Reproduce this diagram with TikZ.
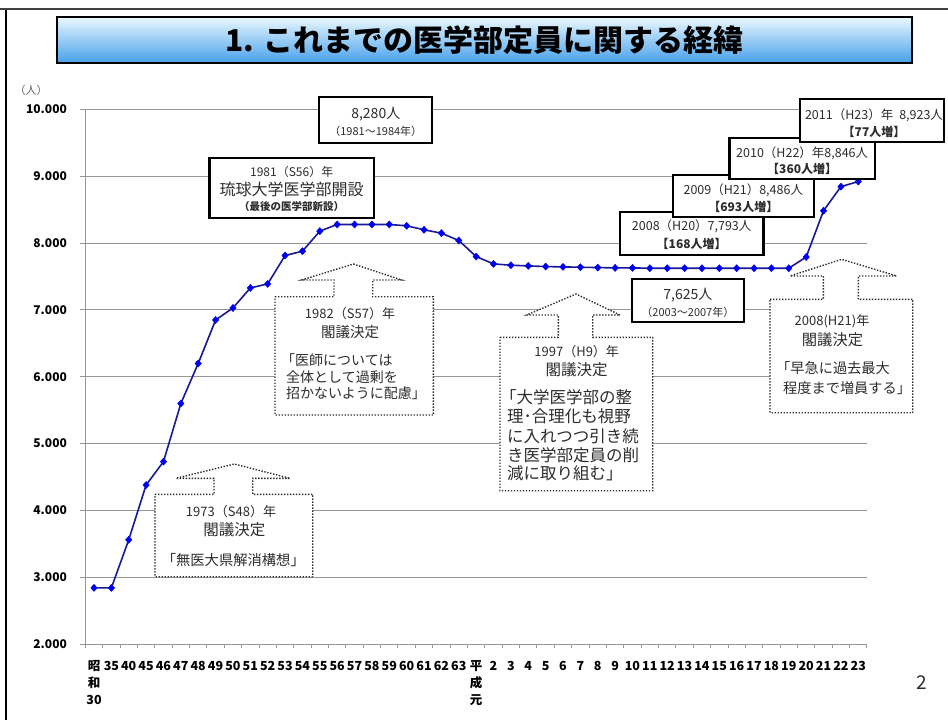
\documentclass[tikz,border=0pt]{standalone}
\usepackage{fontspec}
\setmainfont{Noto Sans CJK JP}
\usetikzlibrary{plotmarks}
\definecolor{gridgray}{RGB}{150,150,150}
\definecolor{txtgray}{RGB}{45,45,45}
\definecolor{linenavy}{RGB}{25,25,150}
\definecolor{markblue}{RGB}{0,0,240}
\definecolor{titletop}{RGB}{235,248,254}
\definecolor{titlebot}{RGB}{70,160,235}
\tikzset{
  fsz/.style={font=\fontsize{#1}{#1}\selectfont},
  fszb/.style={font=\fontsize{#1}{#1}\selectfont\bfseries},
  tx/.style={inner sep=0pt, text=txtgray},
  bx/.style={draw=black, line width=2.3pt, fill=white, inner sep=0pt},
  callout/.style={draw=txtgray, fill=white, line width=1.4pt, dash pattern=on 1.4pt off 1.6pt},
  xlab/.style={inner sep=0pt, font=\fontsize{12.5}{12.5}\selectfont\bfseries},
  ylab/.style={inner sep=0pt, font=\fontsize{12}{12}\selectfont\bfseries},
  gridl/.style={draw=gridgray, line width=1pt},
  chartline/.style={draw=linenavy, line width=1.6pt, line join=round},
}
\begin{document}
\begin{tikzpicture}[x=1pt,y=-1pt]
\useasboundingbox (0,0) rectangle (948,720);
\fill[white] (0,0) rectangle (948,720);
% frame
\draw[line width=1.2pt, black!75] (0,9) -- (948,9);
\draw[line width=2pt, black] (6,10) -- (6,720);
% title
\node[draw=black, line width=1.5pt, top color=titletop, bottom color=titlebot,
      minimum width=855pt, minimum height=46pt, inner sep=0pt,
      font=\fontsize{30}{30}\selectfont\bfseries] (title) at (484.5,40) {1. これまでの医学部定員に関する経緯};
% axis unit
\node[tx, fsz=11, text=black!60] (unit) at (31,90) {（人）};
% grid and axes
\begin{scope}[shift={(94,777.6)}, x=17.37pt, y=0.0668pt]
  \foreach \v in {3000,4000,...,10000} {
    \draw[gridl] (-0.5,\v) -- (44.5,\v);
  }
  \draw[gridl] (-0.5,2000) -- (-0.5,10000);
  \draw[gridl] (-0.5,2000) -- (44.5,2000);
  \foreach \v in {2000,3000,...,10000} {
    \draw[gridl] (-0.5,\v) -- ++(-5pt,0pt);
  }
  \foreach \k in {0,...,45} {
    \draw[gridl] (\k-0.5,2000) -- ++(0pt,-4pt);
  }
  \foreach \v/\t in {2000/2.000,3000/3.000,4000/4.000,5000/5.000,6000/6.000,7000/7.000,8000/8.000,9000/9.000,10000/10.000} {
    \node[ylab, anchor=east] (yl\v) at (-1.55,\v) {\t};
  }
  \foreach \i/\t in {1/35,2/40,3/45,4/46,5/47,6/48,7/49,8/50,9/51,10/52,11/53,12/54,13/55,14/56,15/57,16/58,17/59,18/60,19/61,20/62,21/63,23/2,24/3,25/4,26/5,27/6,28/7,29/8,30/9,31/10,32/11,33/12,34/13,35/14,36/15,37/16,38/17,39/18,40/19,41/20,42/21,43/22,44/23} {
    \node[xlab, yshift=-22pt] (xl\i) at (\i,2000) {\t};
  }
  \node[xlab, yshift=-22pt] (xs1) at (0,2000) {昭};
  \node[xlab, yshift=-38.7pt] (xs2) at (0,2000) {和};
  \node[xlab, yshift=-56pt] (xs3) at (0,2000) {30};
  \node[xlab, yshift=-22pt] (xh1) at (22,2000) {平};
  \node[xlab, yshift=-38.7pt] (xh2) at (22,2000) {成};
  \node[xlab, yshift=-56pt] (xh3) at (22,2000) {元};
\end{scope}
% page number
\node[tx, fsz=19] (pageno) at (922,683) {2};
% dotted callouts
\draw[callout] (155,494.3) -- (214,494.3) -- (214,478.3) -- (176,478.3) -- (234.3,464) -- (290,478.3) -- (252.7,478.3) -- (252.7,494.3) -- (312.7,494.3) -- (312.7,576.7) -- (155,576.7) -- cycle;
\node[tx, fsz=13] (c73a) at (231,511.7) {1973（S48）年};
\node[tx, fsz=15.5] (c73b) at (234.3,530) {閣議決定};
\node[tx, fsz=14.3] (c73c) at (233.3,560) {「無医大県解消構想」};

\draw[callout] (275,296.7) -- (334,296.7) -- (334,280) -- (301.7,280) -- (353.3,264) -- (401.7,280) -- (372.7,280) -- (372.7,296.7) -- (433.3,296.7) -- (433.3,415) -- (275,415) -- cycle;
\node[tx, fsz=13] (c82a) at (350,313.3) {1982（S57）年};
\node[tx, fsz=14.5] (c82b) at (350,331.7) {閣議決定};
\node[tx, fsz=14, anchor=west] (c82c) at (281,360) {「医師については};
\node[tx, fsz=14, anchor=west] (c82d) at (286,376.7) {全体として過剰を};
\node[tx, fsz=14, anchor=west] (c82e) at (286,393.3) {招かないように配慮」};

\draw[callout] (500,337.3) -- (558.3,337.3) -- (558.3,315) -- (526.7,315) -- (576,294) -- (620,315) -- (592.7,315) -- (592.7,337.3) -- (652.7,337.3) -- (652.7,490.7) -- (500,490.7) -- cycle;
\node[tx, fsz=13] (c97a) at (576.7,351.7) {1997（H9）年};
\node[tx, fsz=15.5] (c97b) at (576.7,370) {閣議決定};
\node[tx, fsz=16.5, anchor=west] (c97c) at (500,397.3) {「大学医学部の整};
\node[tx, fsz=16.5, anchor=west] (c97d) at (507,416.7) {理･合理化も視野};
\node[tx, fsz=16.5, anchor=west] (c97e) at (507,436) {に入れつつ引き続};
\node[tx, fsz=16.5, anchor=west] (c97f) at (507,455) {き医学部定員の削};
\node[tx, fsz=16.5, anchor=west] (c97g) at (507,473.3) {減に取り組む」};

\draw[callout] (770,299.3) -- (823.3,299.3) -- (823.3,276) -- (790,276) -- (841.7,259.3) -- (896.7,276) -- (858.3,276) -- (858.3,299.3) -- (912.7,299.3) -- (912.7,412.7) -- (770,412.7) -- cycle;
\node[tx, fsz=13] (c08a) at (832,321) {2008(H21)年};
\node[tx, fsz=15.3] (c08b) at (832.5,340) {閣議決定};
\node[tx, fsz=14.2, anchor=west] (c08c) at (776,368.3) {「早急に過去最大};
\node[tx, fsz=14.2, anchor=west] (c08d) at (783,388.3) {程度まで増員する」};
% chart
\begin{scope}[shift={(94,777.6)}, x=17.37pt, y=0.0668pt]
  \draw[chartline] plot[mark=diamond*, mark size=3.6pt, mark options={solid, fill=markblue, draw=markblue, line width=0.4pt, xscale=1.2}] coordinates {
    (0,2840) (1,2840) (2,3560) (3,4380) (4,4730) (5,5600) (6,6200) (7,6850) (8,7030) (9,7330)
    (10,7390) (11,7815) (12,7880) (13,8180) (14,8280) (15,8280) (16,8280) (17,8280) (18,8260) (19,8200)
    (20,8150) (21,8040) (22,7800) (23,7690) (24,7670) (25,7660) (26,7650) (27,7645) (28,7640) (29,7635)
    (30,7630) (31,7630) (32,7625) (33,7625) (34,7625) (35,7625) (36,7625) (37,7625) (38,7625) (39,7625)
    (40,7625) (41,7793) (42,8486) (43,8846) (44,8923)};
\end{scope}
% solid boxes
\node[bx, minimum width=113pt, minimum height=46pt] (b8280) at (375.8,120.3) {};
\node[tx, fsz=14] (b8280a) at (375.8,114.5) {8,280人};
\node[tx, fsz=11] (b8280b) at (375.8,131) {（1981～1984年）};

\node[bx, minimum width=164.7pt, minimum height=60.6pt] (bryu) at (291.7,188) {};
\node[tx, fsz=12] (bryua) at (291.7,171.7) {1981（S56）年};
\node[tx, fsz=16] (bryub) at (291.7,189.3) {琉球大学医学部開設};
\node[tx, fszb=10.5] (bryuc) at (291.7,206.7) {（最後の医学部新設）};

\node[bx, minimum width=112.3pt, minimum height=43pt] (b7625) at (687.9,300.5) {};
\node[tx, fsz=14] (b7625a) at (687.9,295) {7,625人};
\node[tx, fsz=11] (b7625b) at (687.9,312) {（2003～2007年）};

\node[bx, minimum width=143.3pt, minimum height=43.3pt] (b2008) at (691.7,233.3) {};
\node[tx, fsz=12.5] (b2008a) at (691.7,226.7) {2008（H20）7,793人};
\node[tx, fszb=12] (b2008b) at (691.7,244) {【168人増】};

\node[bx, minimum width=141.3pt, minimum height=41.7pt] (b2009) at (743.3,195.8) {};
\node[tx, fsz=12.5] (b2009a) at (743.3,190) {2009（H21）8,486人};
\node[tx, fszb=12] (b2009b) at (743.3,206.7) {【693人増】};

\node[bx, minimum width=145.7pt, minimum height=41.6pt] (b2010) at (802.2,158.5) {};
\node[tx, fsz=12.5] (b2010a) at (802.2,153.3) {2010（H22）年8,846人};
\node[tx, fszb=12] (b2010b) at (802.2,169.3) {【360人増】};

\node[bx, minimum width=144pt, minimum height=42.4pt] (b2011) at (872,120.5) {};
\node[tx, fsz=12.5] (b2011a) at (874,115) {2011（H23）年\hspace{6pt}8,923人};
\node[tx, fszb=12] (b2011b) at (874,131.7) {【77人増】};
\end{tikzpicture}
\end{document}
